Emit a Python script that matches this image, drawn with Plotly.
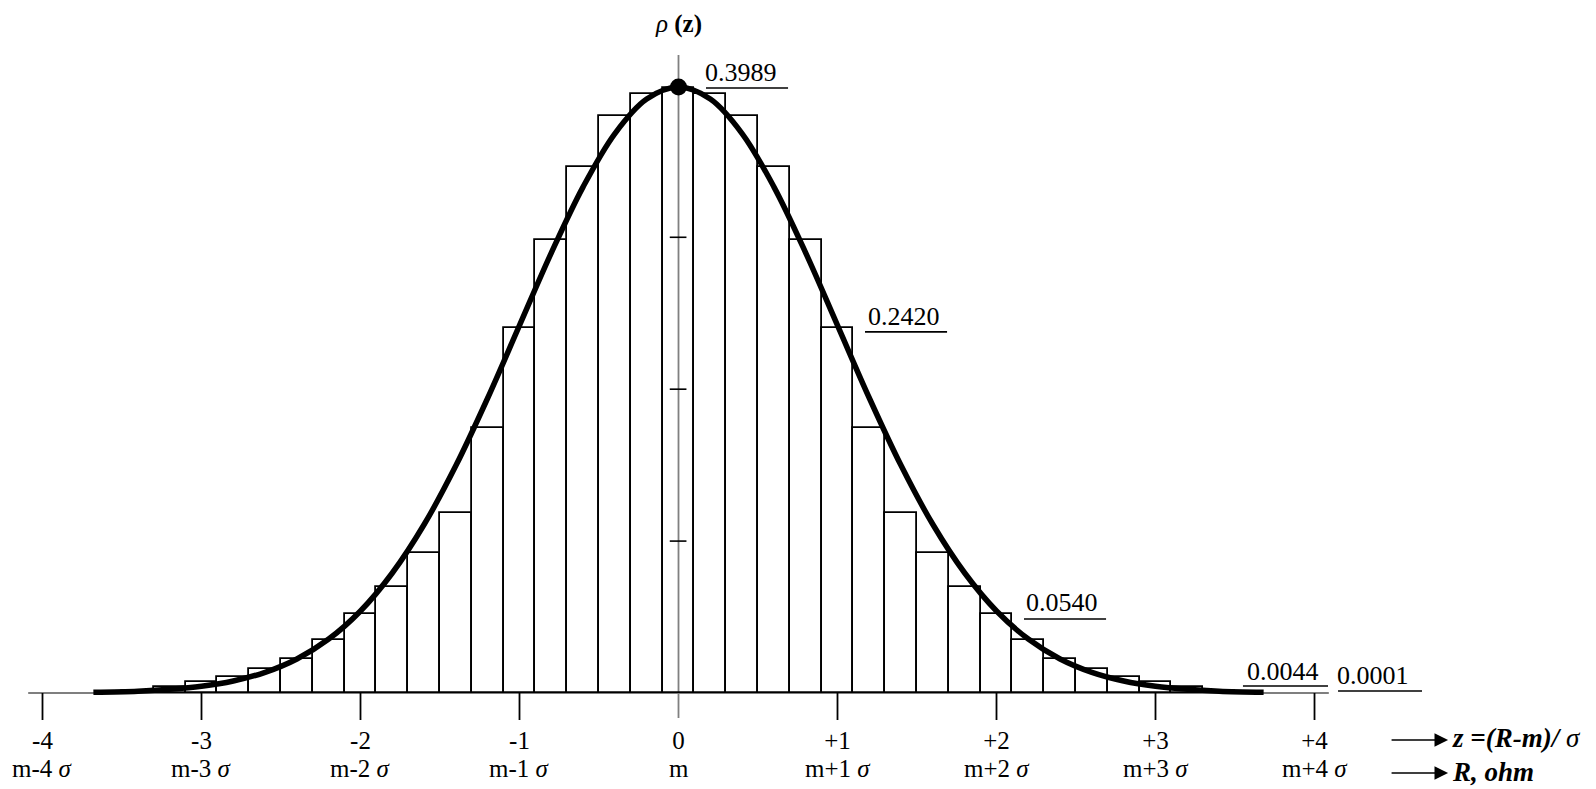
import plotly.graph_objects as go

# ---------------- data ----------------
bar_z = [-3.4, -3.2, -3.0, -2.8, -2.6, -2.4, -2.2, -2.0, -1.8, -1.6, -1.4, -1.2,
         -1.0, -0.8, -0.6, -0.4, -0.2, 0.0, 0.2, 0.4, 0.6, 0.8, 1.0, 1.2,
         1.4, 1.6, 1.8, 2.0, 2.2, 2.4, 2.6, 2.8, 3.0, 3.2, 3.4]
bar_h = [0.0010, 0.0042, 0.0075, 0.0105, 0.0155, 0.0225, 0.0350, 0.0520, 0.0700,
         0.0920, 0.1185, 0.1745, 0.2400, 0.2985, 0.3465, 0.3800, 0.3945, 0.3980,
         0.3945, 0.3800, 0.3465, 0.2985, 0.2400, 0.1745, 0.1185, 0.0920, 0.0700,
         0.0520, 0.0350, 0.0225, 0.0155, 0.0105, 0.0075, 0.0042, 0.0010]

curve_z = [-3.68, -3.4, -3.2, -3.0, -2.8, -2.6, -2.4, -2.2, -2.0, -1.8, -1.6, -1.4,
           -1.2, -1.0, -0.8, -0.6, -0.4, -0.2, 0.0, 0.2, 0.4, 0.6, 0.8, 1.0,
           1.2, 1.4, 1.6, 1.8, 2.0, 2.2, 2.4, 2.6, 2.8, 3.0, 3.2, 3.4, 3.68]
curve_rho = [0.0005, 0.0012, 0.0024, 0.0044, 0.0079, 0.0136, 0.0224, 0.0355, 0.0540,
             0.0790, 0.1109, 0.1497, 0.1942, 0.2420, 0.2897, 0.3332, 0.3683, 0.3910,
             0.3989, 0.3910, 0.3683, 0.3332, 0.2897, 0.2420, 0.1942, 0.1497, 0.1109,
             0.0790, 0.0540, 0.0355, 0.0224, 0.0136, 0.0079, 0.0044, 0.0024, 0.0012,
             0.0005]

peak_z = 0.0
peak_rho = 0.3989

tick_vals = [-4, -3, -2, -1, 0, 1, 2, 3, 4]
tick_z_text = ["-4", "-3", "-2", "-1", "0", "+1", "+2", "+3", "+4"]
tick_r_text = ["m-4 <i>σ</i>", "m-3 <i>σ</i>", "m-2 <i>σ</i>", "m-1 <i>σ</i>", "m",
               "m+1 <i>σ</i>", "m+2 <i>σ</i>", "m+3 <i>σ</i>", "m+4 <i>σ</i>"]
y_minor_ticks = [0.1, 0.2, 0.3]

value_labels = ["0.3989", "0.2420", "0.0540", "0.0044", "0.0001"]

# ---------------- layout constants ----------------
FONT = "Liberation Serif, Times New Roman, serif"
W, H = 1596, 789
X_RANGE = [-4.2673, 5.7704]
Y_RANGE = [-0.0632, 0.4562]
BASE_POS = 96 / 789  # paper position of the baseline

# label placement (text centre x, text centre y, underline x0, x1, underline y)
label_pos = [
    (0.393, 0.4085, 0.173, 0.689, 0.3983),
    (1.421, 0.2480, 1.173, 1.689, 0.2377),
    (2.412, 0.0594, 2.173, 2.689, 0.0487),
    (3.799, 0.0143, 3.550, 4.085, 0.0046),
    (4.365, 0.0117, 4.148, 4.676, 0.0013),
]

fig = go.Figure()

fig.add_trace(go.Bar(
    x=bar_z, y=bar_h, width=0.2,
    marker=dict(color="rgba(0,0,0,0)", line=dict(color="black", width=1.8)),
    hoverinfo="skip",
))
fig.add_trace(go.Scatter(
    x=curve_z, y=curve_rho, mode="lines",
    line=dict(color="black", width=5.5, shape="spline", smoothing=1.0),
    hoverinfo="skip",
))
fig.add_trace(go.Scatter(
    x=[peak_z], y=[peak_rho], mode="markers",
    marker=dict(size=17, color="black"),
    hoverinfo="skip",
))

shapes = []
# baseline (z axis)
shapes.append(dict(type="line", xref="x", yref="y", x0=-4.09, x1=4.09, y0=0, y1=0,
                   line=dict(color="black", width=1.2), layer="below"))
# z ticks
for v in tick_vals:
    if v == 0:
        continue
    shapes.append(dict(type="line", xref="x", yref="y", x0=v, x1=v, y0=0, y1=-0.0178,
                       line=dict(color="black", width=1.8), layer="below"))
# rho axis
shapes.append(dict(type="line", xref="x", yref="y", x0=0, x1=0, y0=-0.0165, y1=0.42,
                   line=dict(color="#808080", width=1.8), layer="below"))
for v in y_minor_ticks:
    shapes.append(dict(type="line", xref="x", yref="y", x0=-0.055, x1=0.05, y0=v, y1=v,
                       line=dict(color="black", width=1.6), layer="below"))
# underlines of value labels
for (cx, cy, u0, u1, uy) in label_pos:
    shapes.append(dict(type="line", xref="x", yref="y", x0=u0, x1=u1, y0=uy, y1=uy,
                       line=dict(color="black", width=1.6), layer="above"))

annotations = []
for txt, (cx, cy, u0, u1, uy) in zip(value_labels, label_pos):
    annotations.append(dict(x=cx, y=cy, xref="x", yref="y", text=txt, showarrow=False,
                            xanchor="center", yanchor="middle",
                            font=dict(family=FONT, size=26, color="black")))
# second row of tick labels
for v, t in zip(tick_vals, tick_r_text):
    annotations.append(dict(x=v, y=-0.0500, xref="x", yref="y", text=t, showarrow=False,
                            xanchor="center", yanchor="middle",
                            font=dict(family=FONT, size=25, color="black")))
# rho title
annotations.append(dict(x=0, y=0.4404, xref="x", yref="y",
                        text="<i>ρ</i> <b>(z)</b>", showarrow=False,
                        xanchor="center", yanchor="middle",
                        font=dict(family=FONT, size=25, color="black")))
# right side arrows + texts
for yy, txt in [(-0.0309, "<b><i>z =(R-m)/ </i></b><i>σ</i>"), (-0.0527, "<b><i>R, ohm</i></b>")]:
    annotations.append(dict(x=4.84, y=yy, xref="x", yref="y", text="", showarrow=True,
                            ax=-58, ay=0, axref="pixel", ayref="pixel",
                            arrowhead=2, arrowsize=1.7, arrowwidth=1.6, arrowcolor="black"))
    annotations.append(dict(x=4.855, y=yy + 0.001, xref="x", yref="y", text=txt, showarrow=False,
                            xanchor="left", yanchor="middle",
                            font=dict(family=FONT, size=27, color="black")))

fig.update_layout(
    width=W, height=H, autosize=False,
    margin=dict(l=0, r=0, t=0, b=0, pad=0),
    paper_bgcolor="white", plot_bgcolor="white",
    showlegend=False, bargap=0,
    xaxis=dict(range=X_RANGE, showgrid=False, zeroline=False, showline=False,
               tickmode="array", tickvals=tick_vals, ticktext=tick_z_text,
               ticks="", anchor="free", position=BASE_POS,
               ticklabelstandoff=30,
               tickfont=dict(family=FONT, size=25, color="black"), fixedrange=True),
    yaxis=dict(range=Y_RANGE, visible=False, fixedrange=True),
    shapes=shapes,
    annotations=annotations,
    hovermode=False,
)

fig.write_html("out.html", config={"displayModeBar": False})
